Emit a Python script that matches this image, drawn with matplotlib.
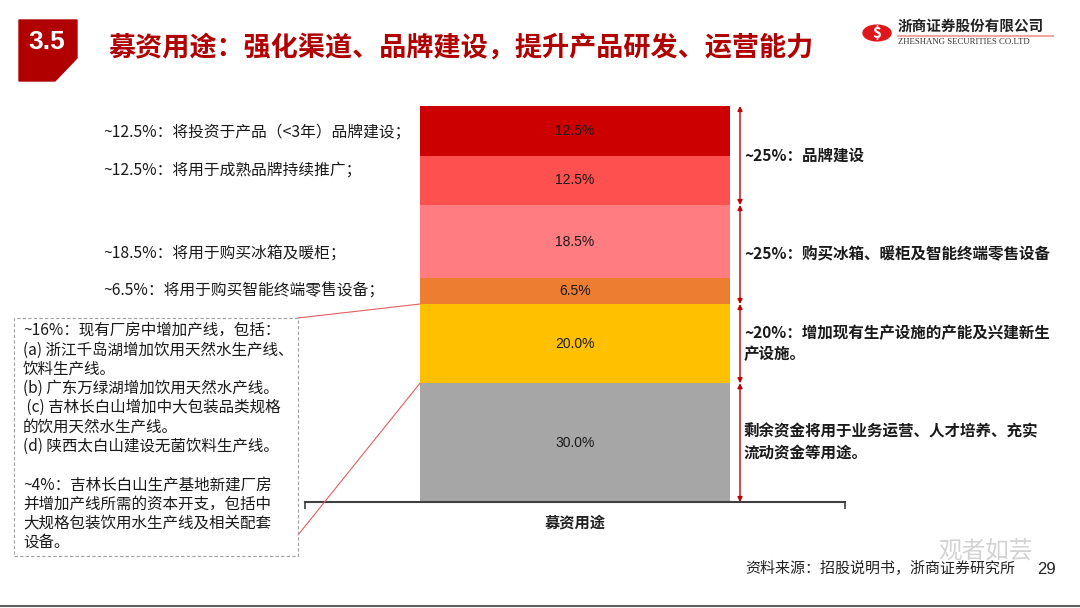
import matplotlib.pyplot as plt
from matplotlib.patches import Rectangle, Polygon, Circle, ConnectionPatch
from matplotlib.lines import Line2D

plt.rcParams['font.family'] = ['Noto Sans CJK SC', 'DejaVu Sans']

# -----------------------------
# Data
# -----------------------------
seg_values = [30.0, 20.0, 6.5, 18.5, 12.5, 12.5]          # bottom -> top
seg_colors = ['#a6a6a6', '#ffc000', '#ed7d31', '#ff7c80', '#ff5050', '#cc0000']
seg_labels = ['30.0%', '20.0%', '6.5%', '18.5%', '12.5%', '12.5%']
category = '募资用途'

# left-hand notes, one per segment (None = explained in the box)
left_notes = [None, None,
              '~6.5%：将用于购买智能终端零售设备；',
              '~18.5%：将用于购买冰箱及暖柜；',
              '~12.5%：将用于成熟品牌持续推广；',
              '~12.5%：将投资于产品（<3年）品牌建设；']

# right-hand groups: (first segment, last segment, text)
groups = [(4, 5, '~25%：品牌建设'),
          (2, 3, '~25%：购买冰箱、暖柜及智能终端零售设备'),
          (1, 1, '~20%：增加现有生产设施的产能及兴建新生\n产设施。'),
          (0, 0, '剩余资金将用于业务运营、人才培养、充实\n流动资金等用途。')]

box_lines = ['~16%：现有厂房中增加产线，包括：',
             '(a) 浙江千岛湖增加饮用天然水生产线、',
             '饮料生产线。',
             '(b) 广东万绿湖增加饮用天然水产线。',
             ' (c) 吉林长白山增加中大包装品类规格',
             '的饮用天然水生产线。',
             '(d) 陕西太白山建设无菌饮料生产线。',
             '',
             '~4%：吉林长白山生产基地新建厂房',
             '并增加产线所需的资本开支，包括中',
             '大规格包装饮用水生产线及相关配套',
             '设备。']

title = '募资用途：强化渠道、品牌建设，提升产品研发、运营能力'
source = '资料来源：招股说明书，浙商证券研究所'

W, H = 1080, 608


def fx(x):
    return x / W


def fy(y):
    return 1 - y / H


fig = plt.figure(figsize=(W / 100, H / 100), dpi=100)

# -----------------------------
# Header
# -----------------------------
fig.patches.append(Polygon([(fx(19), fy(20)), (fx(77), fy(20)), (fx(77), fy(58)),
                            (fx(55), fy(81)), (fx(19), fy(81))],
                           closed=True, transform=fig.transFigure, color='#b00000'))
fig.text(fx(47), fy(42), '3.5', color='white', fontsize=19, fontweight='bold',
         ha='center', va='center', family=['Liberation Sans', 'DejaVu Sans'])
fig.text(fx(108), fy(48), title, color='#b00000', fontsize=19.5, fontweight='bold',
         ha='left', va='center')

# logo
fig.patches.append(Circle((fx(877), fy(33)), 14 / W, transform=fig.transFigure,
                          color='#e0161c'))
fig.text(fx(877), fy(33), '$', color='white', fontsize=11, fontweight='bold',
         ha='center', va='center')
fig.text(fx(898), fy(26), '浙商证券股份有限公司', fontsize=10.5, fontweight='bold',
         ha='left', va='center', color='#222222')
fig.add_artist(Line2D([fx(898), fx(1053)], [fy(35.5), fy(35.5)], color='#f2a3a3', lw=1.5))
fig.text(fx(898), fy(42), 'ZHESHANG SECURITIES CO.LTD', fontsize=6.3,
         family=['Liberation Serif', 'DejaVu Serif'], ha='left', va='center', color='#333333')

# -----------------------------
# Stacked bar
# -----------------------------
ax = fig.add_axes([fx(305), fy(502), 540 / W, 396 / H])
ax.set_xlim(0, 1)
ax.set_ylim(0, 100)
bar_x, bar_w = 0.5, 310 / 540

bottom = 0
starts = []
for val, col, lab in zip(seg_values, seg_colors, seg_labels):
    ax.bar(bar_x, val, bar_w, bottom=bottom, color=col, edgecolor='none')
    ax.text(bar_x, bottom + val / 2, lab, ha='center', va='center', fontsize=10,
            color='#1a1a1a', family=['Liberation Sans', 'DejaVu Sans'])
    starts.append(bottom)
    bottom += val

for s in ['top', 'right', 'left']:
    ax.spines[s].set_visible(False)
ax.spines['bottom'].set_color('#404040')
ax.spines['bottom'].set_linewidth(1.5)
ax.set_yticks([])
ax.set_xticks([0, 1])
ax.set_xticklabels(['', ''])
ax.tick_params(axis='x', length=5, width=1.2, color='#404040')
fig.text(fx(575), fy(523), category, ha='center', va='center', fontsize=11,
         fontweight='bold', color='#222222')

# group arrows and texts on the right
arrow_x = (740 - 305) / 540
for first, last, txt in groups:
    y0 = starts[first]
    y1 = starts[last] + seg_values[last]
    ax.annotate('', xy=(arrow_x, y1), xytext=(arrow_x, y0),
                arrowprops=dict(arrowstyle='<|-|>', color='#c00000', lw=1,
                                mutation_scale=7, shrinkA=0, shrinkB=0),
                annotation_clip=False)
    ax.text(arrow_x + 4 / 540, (y0 + y1) / 2, txt, ha='left', va='center',
            fontsize=11.2, fontweight='bold', color='#1a1a1a', linespacing=1.45)

# left notes, placed at their segments
left_y = {5: 132, 4: 170, 3: 254, 2: 291}
for i, note in enumerate(left_notes):
    if note is None:
        continue
    fig.text(fx(103), fy(left_y[i]), note, ha='left', va='center', fontsize=11.3,
             color='#1a1a1a')

# dashed box
fig.patches.append(Rectangle((fx(14), fy(556)), 284 / W, 238 / H, transform=fig.transFigure,
                             fill=False, ls=(0, (3, 2)), lw=0.8, edgecolor='#a0a0a0'))
line_y = 331
for line in box_lines:
    fig.text(fx(23), fy(line_y), line, ha='left', va='center', fontsize=11.2,
             color='#1a1a1a')
    line_y += 19.2

# connector lines from box to the yellow segment
bar_left = bar_x - bar_w / 2
for (bx, by), yv in [((298, 318), starts[1] + seg_values[1]), ((298, 535), starts[1])]:
    con = ConnectionPatch(xyA=(fx(bx), fy(by)), coordsA=fig.transFigure,
                          xyB=(bar_left, yv), coordsB=ax.transData,
                          color='#e06060', lw=0.8)
    fig.add_artist(con)

# -----------------------------
# Footer
# -----------------------------
fig.text(fx(745), fy(569), source, ha='left', va='center', fontsize=10.8, color='#222222')
fig.text(fx(1056), fy(569), '29', ha='right', va='center', fontsize=12,
         family=['Liberation Sans', 'DejaVu Sans'], color='#222222')
fig.text(fx(985), fy(551), '观者如芸', ha='center', va='center', fontsize=17,
         color='#c8c8c8', alpha=0.8)
fig.add_artist(Line2D([0, 1], [fy(606), fy(606)], color='#606060', lw=1.5))

plt.savefig('out.png', dpi=100)
